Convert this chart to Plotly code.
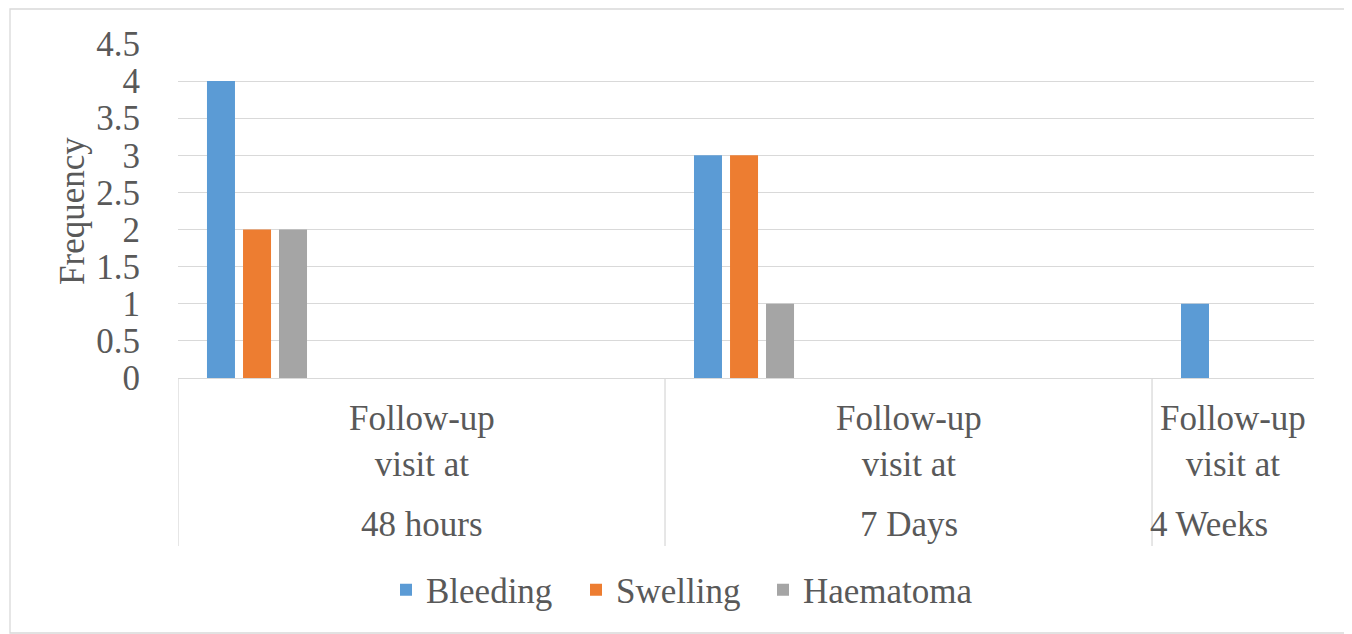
import plotly.graph_objects as go

categories_top = ["Follow-up<br>visit at", "Follow-up<br>visit at", "Follow-up<br>visit at"]
categories_bottom = ["48 hours", "7 Days", "4 Weeks"]
series_names = ["Bleeding", "Swelling", "Haematoma"]
bleeding = [4, 3, 1]
swelling = [2, 3, 0]
haematoma = [2, 1, 0]
y_ticks = [0, 0.5, 1, 1.5, 2, 2.5, 3, 3.5, 4, 4.5]
y_tick_labels = ["0", "0.5", "1", "1.5", "2", "2.5", "3", "3.5", "4", "4.5"]

colors = ["#5B9BD5", "#ED7D31", "#A5A5A5"]
offsets = [0.0595, 0.1335, 0.2074]
bar_w = 0.0575
XMAX = 2.3326
FONT = "Liberation Serif"
FS = 35
TXT = "#595959"
GRID = "#D9D9D9"
legend_symbol_px = [400, 590, 777]

# page places the figure at (8, 8)
OX, OY = 8, 8
W, H = 1352 - OX, 634 - OY
L, T = 178 - OX, 44 - OY
R = W - (1314 - OX)
B = H - (378 - OY)
pw, ph = W - L - R, H - T - B

def px_x(p):
    return (p - OX - L) / pw

def px_y(p):
    return (378 - p) / ph

fig = go.Figure()
xs = list(range(len(categories_bottom)))
legend_ids = ["legend", "legend2", "legend3"]
for name, vals, c, o, lid in zip(series_names, [bleeding, swelling, haematoma], colors, offsets, legend_ids):
    fig.add_trace(go.Bar(x=xs, y=vals, name=name, marker=dict(color=c, line=dict(width=0)),
                         offset=o, width=bar_w, legend=lid))

shapes = []
for i in xs:
    shapes.append(dict(type="line", xref="x", yref="paper", x0=i, x1=i,
                       y0=0, y1=px_y(546), line=dict(color=GRID, width=1.3)))
shapes.append(dict(type="rect", xref="paper", yref="paper",
                   x0=px_x(10), x1=px_x(1347), y0=px_y(9), y1=px_y(633),
                   line=dict(color="#D9D9D9", width=1.3), fillcolor="rgba(0,0,0,0)"))

annotations = []
for i, (top, bot) in enumerate(zip(categories_top, categories_bottom)):
    cx = (i + min(i + 1, XMAX)) / 2
    annotations.append(dict(x=cx, y=px_y(441), xref="x", yref="paper", text=top,
                            showarrow=False, font=dict(family=FONT, size=FS, color=TXT),
                            xanchor="center", yanchor="middle"))
    bx = cx if i + 1 <= XMAX else i + 0.117
    annotations.append(dict(x=bx, y=px_y(524), xref="x", yref="paper", text=bot,
                            showarrow=False, font=dict(family=FONT, size=FS, color=TXT),
                            xanchor="center", yanchor="middle"))

legend_common = dict(orientation="h", y=px_y(590), xanchor="left", yanchor="middle",
                     font=dict(family=FONT, size=FS, color=TXT), itemwidth=30,
                     bgcolor="rgba(0,0,0,0)")
legends = {}
for lid, sx in zip(legend_ids, legend_symbol_px):
    legends[lid] = dict(legend_common, x=px_x(sx - 14))

fig.update_layout(
    width=W, height=H,
    margin=dict(l=L, r=R, t=T, b=B),
    paper_bgcolor="white", plot_bgcolor="white",
    barmode="overlay",
    showlegend=True,
    xaxis=dict(range=[0, XMAX], showticklabels=False, showgrid=False, zeroline=False,
               showline=True, linecolor=GRID, linewidth=1.3, fixedrange=True),
    yaxis=dict(range=[0, 4.5], tickvals=y_ticks, ticktext=y_tick_labels,
               showgrid=True, gridcolor=GRID, gridwidth=1.3, zeroline=False,
               showline=False, ticks="outside", ticklen=30, tickcolor="rgba(0,0,0,0)",
               tickfont=dict(family=FONT, size=FS, color=TXT),
               title=dict(text="Frequency", font=dict(family=FONT, size=FS, color=TXT), standoff=1)),
    shapes=shapes,
    annotations=annotations,
    **legends,
)

fig.write_html("out.html")
